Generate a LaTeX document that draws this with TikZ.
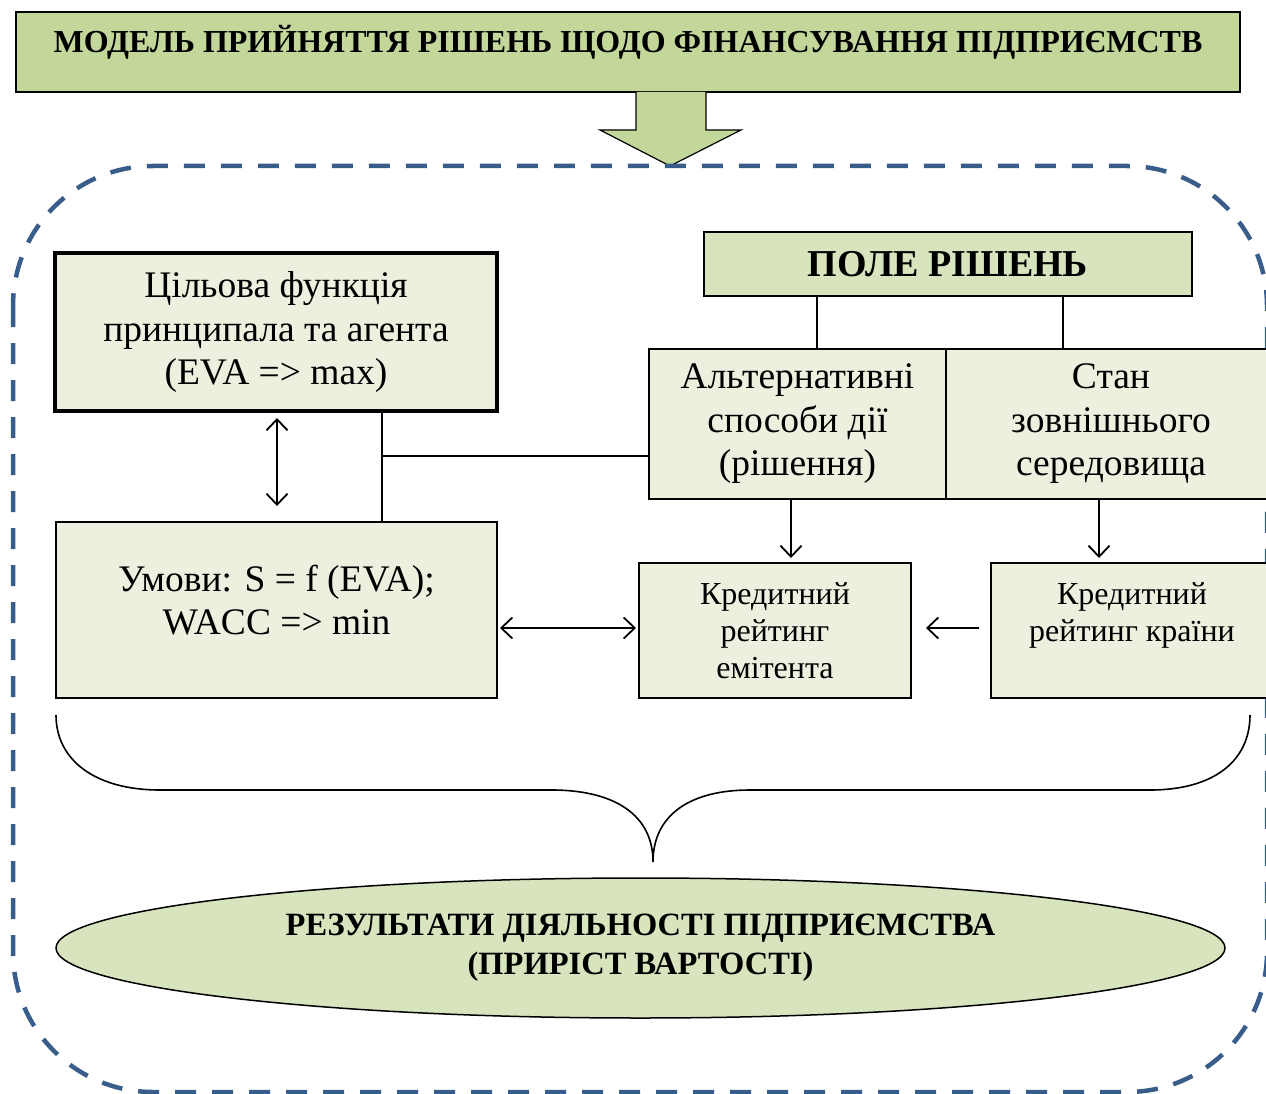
\documentclass[tikz,border=0pt]{standalone}
\usepackage{fontspec}
\setmainfont{Liberation Serif}
\usetikzlibrary{arrows.meta,shapes.geometric}
\definecolor{titlegreen}{RGB}{196,215,155}
\definecolor{midgreen}{RGB}{215,228,189}
\definecolor{lightgreen}{RGB}{235,241,222}
\definecolor{dashblue}{RGB}{56,93,138}
\tikzset{
  x=1pt,y=-1pt,
  box/.style={draw=black,line width=1.5pt,fill=lightgreen,align=center,inner sep=0pt},
  bigtxt/.style={font=\fontsize{37.5}{43.5}\selectfont},
  smalltxt/.style={font=\fontsize{32}{37}\selectfont},
  conn/.style={line width=1.6pt},
  arr/.style={line width=1.8pt,-{Straight Barb[length=11pt,width=21pt,line width=1.8pt]}},
  darr/.style={line width=1.8pt,{Straight Barb[length=11pt,width=21pt,line width=1.8pt]}-{Straight Barb[length=11pt,width=21pt,line width=1.8pt]}},
}
\begin{document}
\begin{tikzpicture}
\useasboundingbox (0,0) rectangle (1266,1094);
\clip (0,0) rectangle (1266,1094);
% title
\node[box,fill=titlegreen,minimum width=1224,minimum height=80,
  font=\bfseries\fontsize{32}{38}\selectfont,text height=22pt,text depth=20pt] (title) at (628,52)
  {МОДЕЛЬ ПРИЙНЯТТЯ РІШЕНЬ ЩОДО ФІНАНСУВАННЯ ПІДПРИЄМСТВ};
% block arrow
\draw[line width=1.2pt,fill=titlegreen] (636,92) -- (636,130) -- (600,130) -- (670,166) coordinate (atip) -- (741,130) -- (706,130) -- (706,92);
% dashed frame
\draw[dashblue,line width=4.5pt,dash pattern=on 21pt off 16pt,rounded corners=140pt] (13,166) rectangle (1267,1092);
% boxes
\node[box,line width=4pt,bigtxt,minimum width=442,minimum height=158] (goal) at (276,332)
  {\rule{0pt}{3pt}Цільова функція\\принципала та агента\\(EVA => max)};
\node[box,fill=midgreen,minimum width=488,minimum height=64,font=\bfseries\fontsize{38}{44}\selectfont] (field) at (948,264) {ПОЛЕ РІШЕНЬ};
\node[box,bigtxt,minimum width=297,minimum height=150] (alt) at (797.5,424) {Альтернативні\\способи дії\\(рішення)};
\node[box,bigtxt,minimum width=330,minimum height=150] (state) at (1111,424) {Стан\\зовнішнього\\середовища};
\node[box,bigtxt,minimum width=441,minimum height=176] (cond) at (276.5,610) {Умови: S = f (EVA);\\WACC => min\\[-23pt]};
\node[box,smalltxt,minimum width=272,minimum height=135] (issuer) at (775,630.5) {Кредитний\\рейтинг\\емітента};
\node[box,smalltxt,minimum width=300,minimum height=135] (country) at (1141,630.5) {\hspace*{-18pt}Кредитний\\\hspace*{-18pt}рейтинг країни\\[0pt]};
% connectors
\draw[conn] (817,296) -- (817,349);
\draw[conn] (1063,296) -- (1063,349);
\coordinate (j) at (382,456);
\draw[conn] (382,411) -- (382,522);
\draw[conn] (j) -- (alt.west |- j);
\draw[darr] (277,418) -- (277,506);
\draw[arr] (791,499) -- (791,558);
\draw[arr] (1099,499) -- (1099,558);
\draw[darr] (500,628) -- (636,628);
\draw[arr] (979,628) -- (926,628);
% brace
\draw[line width=1.6pt] (56,715) .. controls (56,760) and (95,790) .. (160,790) -- (555,790)
  .. controls (615,791) and (653,815) .. (653,862)
  .. controls (653,815) and (690,790) .. (750,790) -- (1150,790)
  .. controls (1215,790) and (1250,760) .. (1250,715);
% ellipse
\node[ellipse,draw=black,line width=1.5pt,fill=midgreen,minimum width=1169,minimum height=140,inner sep=0pt,align=center,
  font=\bfseries\fontsize{32.5}{39}\selectfont] (result) at (640.5,948)
  {РЕЗУЛЬТАТИ ДІЯЛЬНОСТІ ПІДПРИЄМСТВА\\(ПРИРІСТ ВАРТОСТІ)};
\end{tikzpicture}
\end{document}
